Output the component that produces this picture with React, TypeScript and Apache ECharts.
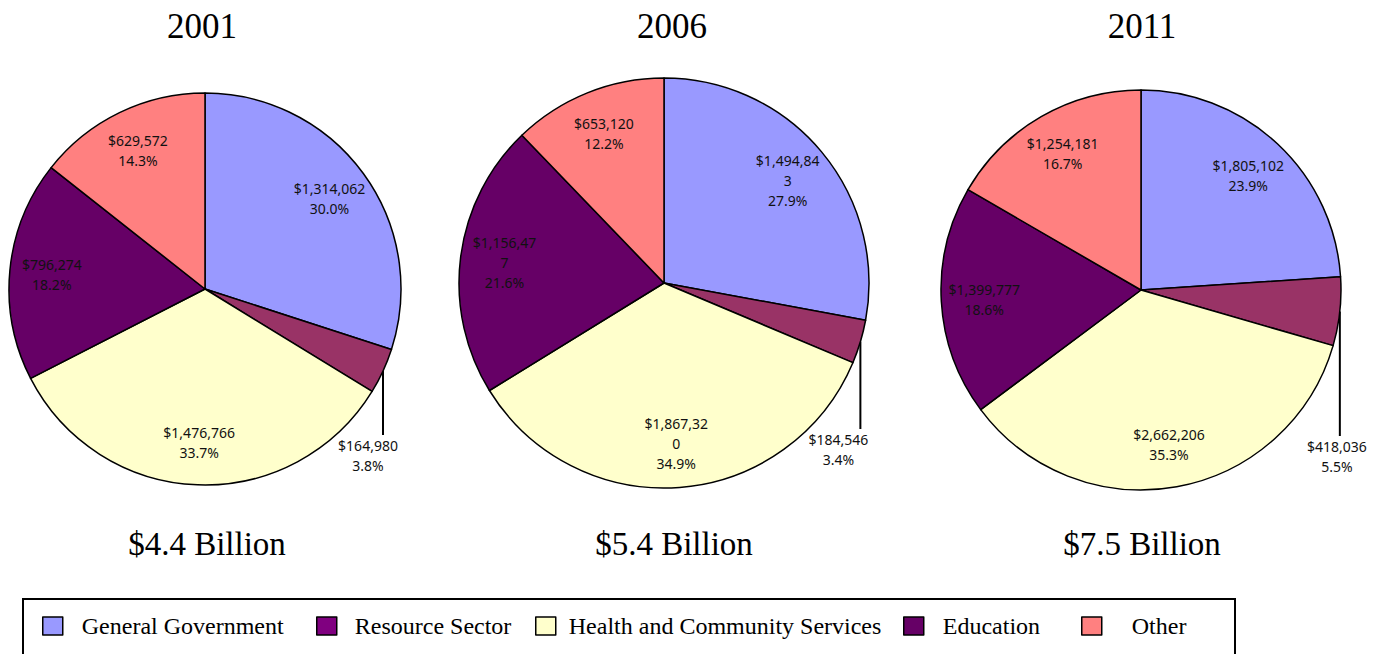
import React, { useEffect, useRef } from 'react';
import * as echarts from 'echarts';

// ---- Data ----
const categories = [
  'General Government',
  'Resource Sector',
  'Health and Community Services',
  'Education',
  'Other',
];
const years = ['2001', '2006', '2011'];
const values2001 = [1314062, 164980, 1476766, 796274, 629572];
const values2006 = [1494843, 184546, 1867320, 1156477, 653120];
const values2011 = [1805102, 418036, 2662206, 1399777, 1254181];
const percents2001 = [30.0, 3.8, 33.7, 18.2, 14.3];
const percents2006 = [27.9, 3.4, 34.9, 21.6, 12.2];
const percents2011 = [23.9, 5.5, 35.3, 18.6, 16.7];

// ---- Styles / layout ----
const sliceColors = ['#9999FF', '#993366', '#FFFFCC', '#660066', '#FF8080'];
const legendColors = ['#9999FF', '#800080', '#FFFFCC', '#660066', '#FF8080'];
const SERIF = '"Liberation Serif", "Times New Roman", serif';
const SANS = '"Noto Sans", "Open Sans", sans-serif';

const pieLayouts = [
  { cx: 205, cy: 289, r: 196, titleX: 202, totalX: 207, wrap: 0, outDx: -15 },
  { cx: 664, cy: 283, r: 205, titleX: 672, totalX: 674, wrap: 66, outDx: -22 },
  { cx: 1141, cy: 290, r: 200, titleX: 1142, totalX: 1142, wrap: 0, outDx: -3 },
];
const legendLayout = [
  { left: 42, gap: 19 },
  { left: 316, gap: 18 },
  { left: 535, gap: 13 },
  { left: 903, gap: 19 },
  { left: 1081, gap: 30 },
];

const yearValues = [values2001, values2006, values2011];
const yearPercents = [percents2001, percents2006, percents2011];
const RS = categories.indexOf('Resource Sector');

function buildOption() {
  const series: any[] = [];
  const graphics: any[] = [];

  yearValues.forEach((vals, i) => {
    const pl = pieLayouts[i];
    const pcts = yearPercents[i];
    const fmt = (p: any) =>
      '$' + Number(p.value).toLocaleString('en-US') + '\n' + pcts[p.dataIndex].toFixed(1) + '%';
    const labelText = {
      fontFamily: SANS,
      fontSize: 14,
      lineHeight: 20,
      color: '#111',
    };

    // Real pie
    series.push({
      type: 'pie',
      center: [pl.cx, pl.cy],
      radius: pl.r,
      startAngle: 90,
      clockwise: true,
      avoidLabelOverlap: false,
      emphasis: { disabled: true },
      itemStyle: { borderColor: '#000', borderWidth: 1.5 },
      label: { show: true, position: 'outside', formatter: fmt, ...labelText },
      labelLine: { show: true, length: 8, length2: 0, lineStyle: { color: '#000', width: 2 } },
      labelLayout: (p: any) => {
        if (p.dataIndex !== RS || !p.labelLinePoints) return {};
        const p0 = p.labelLinePoints[0];
        const yEnd = pl.cy + 146;
        return {
          x: p0[0] + pl.outDx,
          y: yEnd,
          align: 'center',
          verticalAlign: 'top',
          labelLinePoints: [
            [p0[0], p0[1]],
            [p0[0], yEnd],
            [p0[0], yEnd],
          ],
        };
      },
      data: categories.map((name, k) => ({
        name,
        value: vals[k],
        itemStyle: { color: sliceColors[k] },
        label: { show: k === RS },
        labelLine: { show: k === RS },
      })),
    });

    // Transparent helper pie that carries the inside labels at ~0.77 r
    series.push({
      type: 'pie',
      center: [pl.cx, pl.cy],
      radius: pl.r * 1.54,
      startAngle: 90,
      clockwise: true,
      silent: true,
      z: 5,
      emphasis: { disabled: true },
      itemStyle: { color: 'rgba(0,0,0,0)', borderWidth: 0 },
      label: {
        show: true,
        position: 'inside',
        formatter: fmt,
        ...labelText,
        ...(pl.wrap ? { width: pl.wrap, overflow: 'breakAll' } : {}),
      },
      labelLine: { show: false },
      data: categories.map((name, k) => ({
        name,
        value: vals[k],
        label: { show: k !== RS },
      })),
    });

    const total = vals.reduce((a, b) => a + b, 0);
    graphics.push({
      type: 'text',
      x: pl.titleX,
      y: 26,
      style: {
        text: years[i],
        fontFamily: SERIF,
        fontSize: 35,
        fill: '#000',
        align: 'center',
        verticalAlign: 'middle',
      },
    });
    graphics.push({
      type: 'text',
      x: pl.totalX,
      y: 544,
      style: {
        text: '$' + (total / 1e6).toFixed(1) + ' Billion',
        fontFamily: SERIF,
        fontSize: 33,
        fill: '#000',
        align: 'center',
        verticalAlign: 'middle',
      },
    });
  });

  graphics.push({
    type: 'rect',
    shape: { x: 23, y: 599, width: 1212, height: 80 },
    style: { fill: 'none', stroke: '#000', lineWidth: 2 },
    z: 0,
  });

  const legends = categories.map((name, k) => ({
    data: [
      {
        name,
        itemStyle: { color: legendColors[k], borderColor: '#000', borderWidth: 1.5 },
      },
    ],
    left: legendLayout[k].left,
    top: 614,
    padding: 0,
    icon: 'rect',
    itemWidth: 20,
    itemHeight: 18,
    selectedMode: false,
    itemStyle: { borderColor: '#000', borderWidth: 1.5 },
    textStyle: {
      fontFamily: SERIF,
      fontSize: 24,
      color: '#000',
      padding: [0, 0, 0, legendLayout[k].gap - 5],
    },
  }));

  return {
    animation: false,
    backgroundColor: '#fff',
    legend: legends,
    graphic: graphics,
    series,
  };
}

export default function App() {
  const ref = useRef<HTMLDivElement>(null);
  useEffect(() => {
    if (!ref.current) return;
    const chart = echarts.init(ref.current, undefined, { renderer: 'svg' });
    chart.setOption(buildOption() as any);
    return () => chart.dispose();
  }, []);
  return (
    <div
      ref={ref}
      style={{ position: 'fixed', left: 0, top: 0, width: 1384, height: 654, background: '#fff' }}
    />
  );
}
